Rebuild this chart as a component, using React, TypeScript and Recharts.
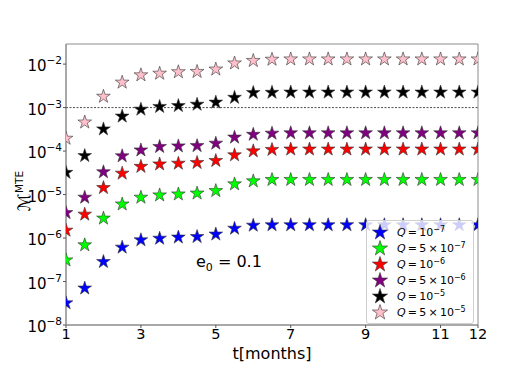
import React from "react";
import {
  ScatterChart,
  Scatter,
  XAxis,
  YAxis,
  ReferenceLine,
  ReferenceArea,
} from "recharts";

// time in months, sampled every half month
const months = [1, 1.5, 2, 2.5, 3, 3.5, 4, 4.5, 5, 5.5, 6, 6.5, 7, 7.5, 8, 8.5, 9, 9.5, 10, 10.5, 11, 11.5, 12];

// M^MTE for each Q
const q1e7 = [3.2e-8, 7.0e-8, 2.85e-7, 6.1e-7, 9.0e-7, 9.8e-7, 1.04e-6, 1.07e-6, 1.22e-6, 1.66e-6, 1.95e-6, 2.0e-6, 2.0e-6, 2.0e-6, 2.0e-6, 2.0e-6, 2.0e-6, 2.0e-6, 2.0e-6, 2.0e-6, 2.0e-6, 2.0e-6, 2.0e-6];
const q5e7 = [3.1e-7, 6.9e-7, 2.84e-6, 6.0e-6, 8.6e-6, 9.7e-6, 1.02e-5, 1.07e-5, 1.22e-5, 1.74e-5, 2.04e-5, 2.2e-5, 2.2e-5, 2.2e-5, 2.2e-5, 2.2e-5, 2.2e-5, 2.2e-5, 2.2e-5, 2.2e-5, 2.2e-5, 2.2e-5, 2.2e-5];
const q1e6 = [1.5e-6, 3.5e-6, 1.43e-5, 3.07e-5, 4.4e-5, 5.0e-5, 5.2e-5, 5.4e-5, 6.0e-5, 8.1e-5, 1.0e-4, 1.08e-4, 1.1e-4, 1.1e-4, 1.1e-4, 1.1e-4, 1.1e-4, 1.1e-4, 1.1e-4, 1.1e-4, 1.1e-4, 1.1e-4, 1.1e-4];
const q5e6 = [3.8e-6, 8.6e-6, 3.3e-5, 7.7e-5, 1.05e-4, 1.26e-4, 1.3e-4, 1.32e-4, 1.5e-4, 2.07e-4, 2.4e-4, 2.55e-4, 2.6e-4, 2.6e-4, 2.6e-4, 2.6e-4, 2.6e-4, 2.6e-4, 2.6e-4, 2.6e-4, 2.6e-4, 2.6e-4, 2.6e-4];
const q1e5 = [3.2e-5, 7.8e-5, 3.2e-4, 6.3e-4, 9.1e-4, 1.05e-3, 1.1e-3, 1.18e-3, 1.32e-3, 1.7e-3, 2.2e-3, 2.22e-3, 2.25e-3, 2.25e-3, 2.25e-3, 2.25e-3, 2.25e-3, 2.25e-3, 2.25e-3, 2.25e-3, 2.25e-3, 2.25e-3, 2.25e-3];
const q5e5 = [1.95e-4, 4.6e-4, 1.8e-3, 3.8e-3, 5.6e-3, 6.1e-3, 6.6e-3, 6.7e-3, 7.6e-3, 1.05e-2, 1.2e-2, 1.28e-2, 1.3e-2, 1.3e-2, 1.3e-2, 1.3e-2, 1.3e-2, 1.3e-2, 1.3e-2, 1.3e-2, 1.3e-2, 1.3e-2, 1.3e-2];

const xTicks = [1, 3, 5, 7, 9, 11, 12];
const yTicks = [1e-8, 1e-7, 1e-6, 1e-5, 1e-4, 1e-3, 1e-2];

const series = [
  { name: "1e-7", mant: "", exp: "7", color: "#0000ff", values: q1e7 },
  { name: "5e-7", mant: "5", exp: "7", color: "#00ff00", values: q5e7 },
  { name: "1e-6", mant: "", exp: "6", color: "#ff0000", values: q1e6 },
  { name: "5e-6", mant: "5", exp: "6", color: "#800080", values: q5e6 },
  { name: "1e-5", mant: "", exp: "5", color: "#000000", values: q1e5 },
  { name: "5e-5", mant: "5", exp: "5", color: "#ffc0cb", values: q5e5 },
];

const FONT = "DejaVu Sans, sans-serif";

function starPoints(cx: number, cy: number, R: number) {
  const r = R * 0.382;
  const pts: string[] = [];
  for (let i = 0; i < 10; i++) {
    const a = ((-90 + i * 36) * Math.PI) / 180;
    const rad = i % 2 === 0 ? R : r;
    pts.push(`${cx + rad * Math.cos(a)},${cy + rad * Math.sin(a)}`);
  }
  return pts.join(" ");
}

const Star = (color: string) => (props: any) => {
  const { cx, cy } = props;
  if (cx == null || cy == null) return <g />;
  return <polygon points={starPoints(cx, cy, 7.2)} fill={color} stroke="#333" strokeWidth={0.6} />;
};

function LogTick({ x, y, payload }: any) {
  const exp = Math.round(Math.log10(payload.value));
  return (
    <text x={x - 1} y={y} textAnchor="end" fontSize={15} fill="#000" fontFamily={FONT}>
      <tspan dy={7}>10</tspan>
      <tspan dy={-7} fontSize={10.5}>{"\u2212" + Math.abs(exp)}</tspan>
    </text>
  );
}

const yLabel = () => (
  <text x={30} y={191} transform="rotate(-90 30 191)" textAnchor="middle" fontFamily={FONT} fill="#000">
    <tspan fontSize={17} fontStyle="italic">ℳ</tspan>
    <tspan fontSize={10.5} dy={-7}>MTE</tspan>
  </text>
);

export default function App() {
  return (
    <div style={{ position: "absolute", left: 0, top: 0, width: 532, height: 366, background: "#fff" }}>
      <ScatterChart width={532} height={366} margin={{ top: 44, right: 54, bottom: 0, left: 0 }}>
        <XAxis
          type="number"
          dataKey="t"
          domain={[1, 12]}
          ticks={xTicks}
          allowDataOverflow
          height={41}
          tickSize={3}
          tickMargin={1}
          axisLine={{ stroke: "#8c8c8c" }}
          tickLine={{ stroke: "#555" }}
          tick={{ fontSize: 14.5, fill: "#000", fontFamily: FONT }}
          label={{ value: "t[months]", position: "insideBottom", offset: 7, fontSize: 16, fill: "#000", fontFamily: FONT }}
        />
        <YAxis
          type="number"
          dataKey="v"
          scale="log"
          domain={[1e-8, 0.029]}
          ticks={yTicks}
          allowDataOverflow
          width={66}
          tickSize={3}
          tickMargin={0}
          axisLine={{ stroke: "#8c8c8c" }}
          tickLine={{ stroke: "#555" }}
          tick={<LogTick />}
          label={yLabel}
        />
        <ReferenceArea x1={1} x2={12} y1={1e-8} y2={0.029} fill="none" stroke="#8c8c8c" strokeWidth={1} />
        <ReferenceLine y={1e-3} stroke="#222" strokeWidth={0.8} strokeDasharray="2 1.5" />
        {series.map((s) => (
          <Scatter
            key={s.name}
            name={s.name}
            data={months.map((t, i) => ({ t, v: s.values[i] }))}
            shape={Star(s.color)}
            isAnimationActive={false}
          />
        ))}
      </ScatterChart>

      <div
        style={{
          position: "absolute",
          left: 196,
          top: 252,
          fontFamily: FONT,
          fontSize: 16,
          color: "#000",
        }}
      >
        e<sub style={{ fontSize: 11 }}>0</sub> = 0.1
      </div>

      <div
        style={{
          position: "absolute",
          left: 366,
          top: 220,
          width: 106,
          padding: "3px 0",
          background: "rgba(255,255,255,0.8)",
          border: "1px solid #d0d0d0",
          borderRadius: 3,
          fontFamily: FONT,
          fontSize: 11,
          color: "#000",
          whiteSpace: "nowrap",
        }}
      >
        {series.map((s) => (
          <div key={s.name} style={{ display: "flex", alignItems: "center", height: 16 }}>
            <svg width={30} height={16} style={{ flex: "none" }}>
              <polygon points={starPoints(13, 8.5, 8)} fill={s.color} stroke="#333" strokeWidth={0.6} />
            </svg>
            <span style={{ whiteSpace: "nowrap" }}>
              <i>Q</i>{"\u2009=\u2009"}{s.mant ? s.mant + "\u2009\u00d7\u2009" : ""}10
              <sup style={{ fontSize: 8, verticalAlign: "4px", lineHeight: 0 }}>{"\u2212" + s.exp}</sup>
            </span>
          </div>
        ))}
      </div>
    </div>
  );
}
